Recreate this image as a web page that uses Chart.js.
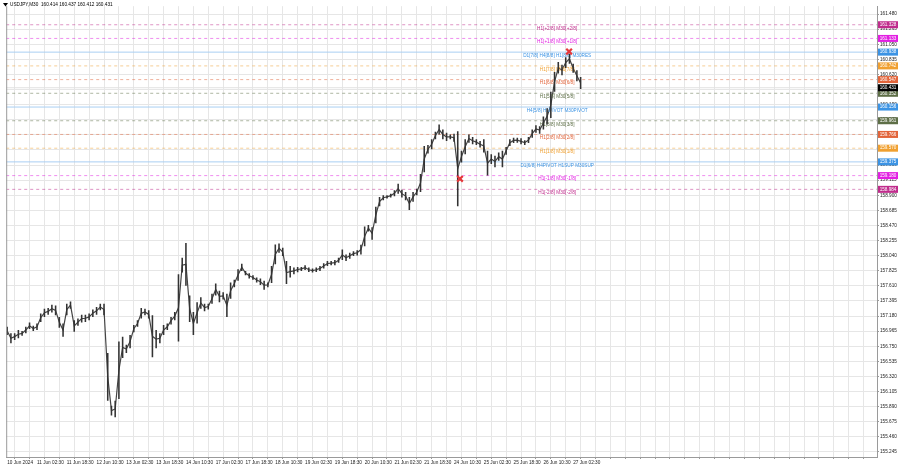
<!DOCTYPE html>
<html>
<head>
<meta charset="utf-8">
<script src="https://cdn.jsdelivr.net/npm/chart.js@4.4.1/dist/chart.umd.min.js"></script>
<style>
  html, body { margin: 0; padding: 0; background: #ffffff; }
  #wrap { width: 900px; height: 468px; position: relative; }
</style>
</head>
<body>
<div id="wrap"><canvas id="usdjpy-chart" width="900" height="468"></canvas></div>
<script>
// Symbol header
const symbolTitle = "USDJPY,M30  160.414 160.437 160.412 160.431";

// Bottom axis labels, one every 8 samples (each sample = 4 bars of M30)
const timeLabels = [
  "10 Jun 2024", "11 Jun 02:30", "11 Jun 18:30", "12 Jun 10:30", "13 Jun 02:30",
  "13 Jun 18:30", "14 Jun 10:30", "17 Jun 02:30", "17 Jun 18:30", "18 Jun 10:30",
  "19 Jun 02:30", "19 Jun 18:30", "20 Jun 10:30", "21 Jun 02:30", "21 Jun 18:30",
  "24 Jun 10:30", "25 Jun 02:30", "25 Jun 18:30", "26 Jun 10:30", "27 Jun 02:30"
];

// Price scale ticks
const priceTicks = [
  161.480, 161.265, 161.050, 160.835, 160.620, 160.405, 160.190, 159.975, 159.760, 159.545,
  159.330, 159.115, 158.900, 158.685, 158.470, 158.255, 158.040, 157.825, 157.610, 157.395,
  157.180, 156.965, 156.750, 156.535, 156.320, 156.105, 155.890, 155.675, 155.460, 155.245
];

// High / low of each sample
const highs = [
  157.027, 156.934, 156.934, 156.980, 156.966, 157.027, 157.088, 157.041, 157.074, 157.215,
  157.285, 157.294, 157.341, 157.332, 157.168, 157.074, 157.355, 157.388, 157.121, 157.144,
  157.200, 157.200, 157.215, 157.275, 157.308, 157.355, 157.355, 156.653, 155.904, 155.974,
  156.817, 156.887, 156.770, 156.910, 157.051, 157.121, 157.294, 157.285, 157.261, 157.191,
  156.980, 156.934, 157.051, 157.074, 157.168, 157.238, 157.776, 158.010, 158.221, 157.472,
  157.238, 157.378, 157.449, 157.355, 157.355, 157.496, 157.645, 157.542, 157.519, 157.496,
  157.659, 157.697, 157.847, 157.926, 157.823, 157.790, 157.762, 157.730, 157.716, 157.683,
  157.659, 157.893, 158.198, 158.212, 158.151, 157.964, 157.893, 157.870, 157.880, 157.879,
  157.903, 157.870, 157.856, 157.870, 157.893, 157.931, 157.963, 157.963, 157.977, 158.010,
  158.127, 158.057, 158.080, 158.104, 158.118, 158.197, 158.455, 158.478, 158.446, 158.736,
  158.876, 158.900, 158.900, 158.923, 158.970, 159.064, 158.979, 158.947, 158.876, 158.947,
  158.993, 159.204, 159.602, 159.616, 159.696, 159.803, 159.906, 159.836, 159.789, 159.766,
  159.775, 159.813, 159.532, 159.696, 159.766, 159.728, 159.696, 159.672, 159.696, 159.532,
  159.485, 159.462, 159.508, 159.532, 159.588, 159.696, 159.719, 159.719, 159.710, 159.682,
  159.728, 159.836, 159.897, 159.883, 160.023, 160.140, 160.375, 160.656, 160.796, 160.759,
  160.866, 160.913, 160.773, 160.679, 160.585
];
const lows = [
  156.910, 156.793, 156.840, 156.863, 156.901, 156.934, 156.994, 156.966, 156.980, 157.097,
  157.168, 157.200, 157.229, 157.191, 157.013, 156.887, 157.191, 157.285, 156.957, 157.041,
  157.088, 157.097, 157.121, 157.168, 157.200, 157.261, 157.191, 155.974, 155.763, 155.740,
  156.000, 156.582, 156.653, 156.723, 156.948, 157.027, 157.144, 157.191, 157.144, 156.592,
  156.723, 156.793, 156.910, 156.980, 157.060, 157.121, 156.817, 157.800, 157.613, 157.097,
  156.910, 157.074, 157.285, 157.247, 157.275, 157.355, 157.472, 157.378, 157.416, 157.168,
  157.425, 157.589, 157.683, 157.823, 157.762, 157.716, 157.697, 157.659, 157.622, 157.556,
  157.589, 157.650, 157.917, 158.081, 158.034, 157.636, 157.730, 157.776, 157.805, 157.823,
  157.837, 157.809, 157.799, 157.809, 157.823, 157.856, 157.893, 157.903, 157.903, 157.940,
  157.977, 157.963, 157.996, 158.034, 158.043, 158.057, 158.174, 158.385, 158.268, 158.502,
  158.745, 158.830, 158.853, 158.867, 158.886, 158.923, 158.867, 158.830, 158.689, 158.806,
  158.900, 158.947, 159.228, 159.494, 159.555, 159.696, 159.766, 159.696, 159.672, 159.696,
  159.663, 158.745, 159.368, 159.485, 159.649, 159.625, 159.616, 159.579, 159.508, 159.181,
  159.345, 159.298, 159.391, 159.298, 159.476, 159.602, 159.644, 159.649, 159.625, 159.616,
  159.644, 159.719, 159.789, 159.775, 159.836, 159.906, 160.000, 160.375, 160.632, 160.609,
  160.712, 160.773, 160.646, 160.524, 160.412
];

// Murrey math levels
const levelValues = [161.328, 161.133, 160.938, 160.742, 160.547, 160.352, 160.156, 159.961, 159.766, 159.570, 159.375, 159.180, 158.984];
const levelNames = [
  "H1[+2/8] M30[+2/8]", "H1[+1/8] M30[+1/8]", "D1[7/8] H4[8/8] H1[8/8] M30RES",
  "H1[7/8] M30[7/8]", "H1[6/8] M30[6/8]", "H1[5/8] M30[5/8]", "H4[5/8] H1PIVOT M30PIVOT",
  "H1[3/8] M30[3/8]", "H1[2/8] M30[2/8]", "H1[1/8] M30[1/8]", "D1[6/8] H4PIVOT H1SUP M30SUP",
  "H1[-1/8] M30[-1/8]", "H1[-2/8] M30[-2/8]"
];
const levelColors = ["#c02c8c", "#e21ee2", "#3b93e4", "#f0a030", "#e2643a", "#5e6f47", "#3b93e4",
  "#5e6f47", "#e2643a", "#f0a030", "#3b93e4", "#e21ee2", "#c02c8c"];

// Current price
const lastPrice = 160.431;

// Fractal marks
const markSamples = [150.9, 121.6];
const markPrices = [160.946, 159.134];

// Layout constants
const xMin = -0.27, xMax = 233.6;
const yMin = 155.173, yMax = 161.592;
const labelAt = 147.7;
const FONT = "Liberation Sans";

function withAlpha(hex, a) {
  const n = parseInt(hex.slice(1), 16);
  return "rgba(" + (n >> 16) + "," + ((n >> 8) & 255) + "," + (n & 255) + "," + a + ")";
}

const candleData = highs.map(function (h, i) {
  return { x: i, y: [lows[i], h] };
});

// thin line through the middle of each range, joins the samples like dense candles
const midData = highs.map(function (h, i) {
  return { x: i, y: (h + lows[i]) / 2 };
});

const levelDatasets = levelValues.map(function (v, i) {
  const solid = levelColors[i] === "#3b93e4";
  return {
    type: "line",
    data: [{ x: xMin, y: v }, { x: xMax, y: v }],
    borderColor: solid ? "#a9cff3" : withAlpha(levelColors[i], 0.5),
    borderWidth: 1,
    borderDash: solid ? [] : [3, 3],
    pointRadius: 0,
    order: 3
  };
});

const lastPriceDataset = {
  type: "line",
  data: [{ x: xMin, y: lastPrice }, { x: xMax, y: lastPrice }],
  borderColor: "#e2e2e2",
  borderWidth: 1,
  pointRadius: 0,
  order: 4
};

const midDataset = {
  type: "line",
  data: midData,
  borderColor: "#444444",
  borderWidth: 1.2,
  pointRadius: 0,
  tension: 0,
  order: 1
};

const markDataset = {
  type: "line",
  showLine: false,
  data: markSamples.map(function (s, i) { return { x: s, y: markPrices[i] }; }),
  pointStyle: "crossRot",
  pointRadius: 4,
  pointBorderWidth: 2.2,
  pointBorderColor: "#e5383b",
  order: -1
};

// Texts, price tags and header
const overlayPlugin = {
  id: "overlay",
  beforeDatasetDraw(chart, args) {
    if (args.index !== 1) return;
    const ctx = chart.ctx, xs = chart.scales.x, ys = chart.scales.y;
    ctx.save();
    ctx.font = "4.7px '" + FONT + "'";
    ctx.textAlign = "center";
    ctx.textBaseline = "middle";
    levelValues.forEach(function (v, i) {
      ctx.fillStyle = levelColors[i];
      ctx.fillText(levelNames[i], xs.getPixelForValue(labelAt), ys.getPixelForValue(v) + 3.5);
    });
    ctx.restore();
  },
  afterDraw(chart) {
    const ctx = chart.ctx, ys = chart.scales.y, area = chart.chartArea;
    ctx.save();
    ctx.strokeStyle = "#9a9a9a";
    ctx.lineWidth = 1;
    ctx.beginPath();
    ctx.moveTo(area.left + 0.5, area.top);
    ctx.lineTo(area.left + 0.5, area.bottom);
    ctx.stroke();

    ctx.font = "4.6px '" + FONT + "'";
    ctx.textAlign = "center";
    ctx.textBaseline = "middle";
    const tags = levelValues.map(function (v, i) { return [v, levelColors[i]]; });
    tags.push([lastPrice, "#000000"]);
    tags.forEach(function (t) {
      const y = ys.getPixelForValue(t[0]);
      ctx.fillStyle = t[1];
      ctx.fillRect(area.right + 1, y - 3.5, 20, 7);
      ctx.fillStyle = "#ffffff";
      ctx.fillText(t[0].toFixed(3), area.right + 11, y);
    });

    ctx.fillStyle = "#000000";
    ctx.beginPath();
    ctx.moveTo(3, 3);
    ctx.lineTo(8, 3);
    ctx.lineTo(5.5, 6.5);
    ctx.closePath();
    ctx.fill();
    ctx.textAlign = "left";
    ctx.font = "4.7px '" + FONT + "'";
    ctx.fillText(symbolTitle, 10, 4.8);
    ctx.restore();
  }
};

const xTickValues = [];
for (let v = 0; v <= 232; v += 4) xTickValues.push(v);

const configChart = {
  type: "bar",
  data: {
    datasets: [
      markDataset,
      {
        data: candleData,
        backgroundColor: "#333333",
        borderWidth: 0,
        barPercentage: 0.42,
        categoryPercentage: 1,
        order: 0
      },
      midDataset,
      lastPriceDataset
    ].concat(levelDatasets)
  },
  options: {
    responsive: false,
    animation: false,
    events: [],
    layout: { padding: 0 },
    plugins: {
      legend: { display: false },
      tooltip: { enabled: false }
    },
    scales: {
      x: {
        type: "linear",
        min: xMin,
        max: xMax,
        offset: false,
        afterBuildTicks: function (scale) {
          scale.ticks = xTickValues.map(function (v) { return { value: v }; });
        },
        afterFit: function (scale) {
          scale.height = 11;
          scale.paddingLeft = 0;
          scale.paddingRight = 0;
        },
        ticks: {
          autoSkip: false,
          maxRotation: 0,
          align: "start",
          padding: 1,
          color: "#222222",
          font: { family: FONT, size: 4.7 },
          callback: function (value) {
            if (value % 8 !== 0) return "";
            return timeLabels[value / 8] || "";
          }
        },
        grid: { color: "#e6e6e6", tickLength: 2, tickColor: "#9a9a9a" },
        border: { color: "#9a9a9a" }
      },
      y: {
        position: "right",
        min: yMin,
        max: yMax,
        afterBuildTicks: function (scale) {
          scale.ticks = priceTicks.map(function (v) { return { value: v }; });
        },
        afterFit: function (scale) {
          scale.width = 23;
          scale.paddingTop = 0;
          scale.paddingBottom = 0;
        },
        ticks: {
          padding: 1,
          color: "#222222",
          font: { family: FONT, size: 4.7 },
          callback: function (value) { return Number(value).toFixed(3); }
        },
        grid: { color: "#e6e6e6", tickLength: 2, tickColor: "#9a9a9a" },
        border: { color: "#9a9a9a" }
      }
    }
  },
  plugins: [overlayPlugin]
};

let usdjpy_chart = new Chart(document.getElementById("usdjpy-chart"), configChart);
</script>
</body>
</html>
